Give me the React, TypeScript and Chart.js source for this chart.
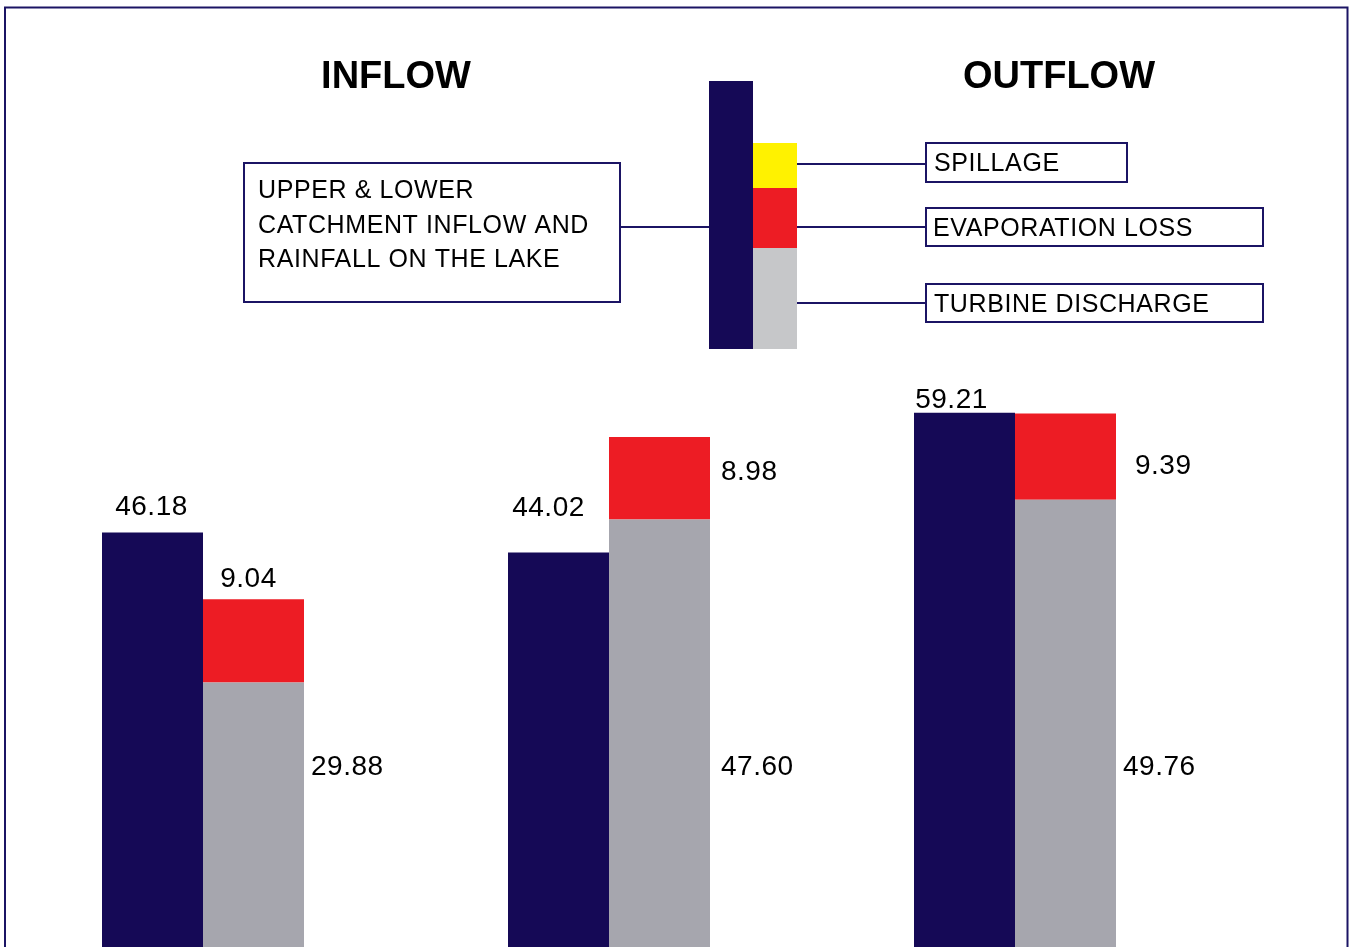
import React, { useEffect, useRef } from "react";
import { Chart, registerables } from "chart.js";

Chart.register(...registerables);

const categories = ["Case 1", "Case 2", "Case 3"];
const inflowValues = [46.18, 44.02, 59.21];
const turbineValues = [29.88, 47.6, 49.76];
const evaporationValues = [9.04, 8.98, 9.39];

const NAVY = "#150956";
const RED = "#ed1c24";
const GRAY = "#a6a6ae";
const LIGHT_GRAY = "#c6c7c9";
const YELLOW = "#fff200";
const FRAME = "#1b1464";
const FONT = "'Liberation Sans', Arial, Helvetica, sans-serif";

const decorPlugin = {
  id: "decor",
  beforeDraw(chart: any) {
    const ctx = chart.ctx;
    ctx.save();
    ctx.fillStyle = "#ffffff";
    ctx.fillRect(0, 0, chart.width, chart.height);
    ctx.restore();
  },
  afterDraw(chart: any) {
    const ctx = chart.ctx;
    ctx.save();
    // frame
    ctx.strokeStyle = FRAME;
    ctx.lineWidth = 2;
    ctx.strokeRect(5, 7.5, 1342.5, 1100);

    // titles
    ctx.fillStyle = "#000";
    ctx.font = `bold 38px ${FONT}`;
    ctx.textAlign = "center";
    ctx.textBaseline = "alphabetic";
    ctx.fillText("INFLOW", 396, 88);
    ctx.fillText("OUTFLOW", 1059, 88);

    // legend diagram bars
    ctx.fillStyle = NAVY;
    ctx.fillRect(709, 81, 44, 268);
    ctx.fillStyle = YELLOW;
    ctx.fillRect(753, 143, 44, 45);
    ctx.fillStyle = RED;
    ctx.fillRect(753, 188, 44, 60);
    ctx.fillStyle = LIGHT_GRAY;
    ctx.fillRect(753, 248, 44, 101);

    // connector lines
    ctx.strokeStyle = FRAME;
    ctx.lineWidth = 2;
    ctx.beginPath();
    ctx.moveTo(620, 227);
    ctx.lineTo(709, 227);
    ctx.moveTo(797, 164);
    ctx.lineTo(926, 164);
    ctx.moveTo(797, 227);
    ctx.lineTo(926, 227);
    ctx.moveTo(797, 303);
    ctx.lineTo(926, 303);
    ctx.stroke();

    // boxes
    ctx.strokeRect(244, 163, 376, 139);
    ctx.strokeRect(926, 143, 201, 39);
    ctx.strokeRect(926, 208, 337, 38);
    ctx.strokeRect(926, 284, 337, 38);

    ctx.fillStyle = "#000";
    ctx.font = `25px ${FONT}`;
    ctx.textAlign = "left";
    (ctx as any).letterSpacing = "0.6px";
    ctx.fillText("UPPER & LOWER", 258, 198);
    ctx.fillText("CATCHMENT INFLOW AND", 258, 233);
    ctx.fillText("RAINFALL ON THE LAKE", 258, 267);
    ctx.fillText("SPILLAGE", 934, 171);
    ctx.fillText("EVAPORATION LOSS", 933, 236);
    ctx.fillText("TURBINE DISCHARGE", 934, 312);

    // value labels
    (ctx as any).letterSpacing = "0.5px";
    ctx.font = `28px ${FONT}`;
    const y = chart.scales.y;
    const inMeta = chart.getDatasetMeta(0);
    const turbMeta = chart.getDatasetMeta(1);
    const evapMeta = chart.getDatasetMeta(2);
    const inOffsets = [
      [-1, -28],
      [-10, -46],
      [-13, -15],
    ];
    inMeta.data.forEach((bar: any, i: number) => {
      ctx.textAlign = "center";
      ctx.fillText(
        inflowValues[i].toFixed(2),
        bar.x + inOffsets[i][0],
        bar.y + inOffsets[i][1] + 10
      );
    });
    evapMeta.data.forEach((bar: any, i: number) => {
      const right = bar.x + bar.width / 2;
      const txt = evaporationValues[i].toFixed(2);
      if (i === 0) {
        ctx.textAlign = "center";
        ctx.fillText(txt, bar.x - 5, bar.y - 22 + 10);
      } else {
        ctx.textAlign = "left";
        const top = bar.y;
        const bottom = bar.base;
        const dx = i === 1 ? 11 : 19;
        const cy = i === 1 ? (top + bottom) / 2 - 8 : (top + bottom) / 2 + 7;
        ctx.fillText(txt, right + dx, cy + 10);
      }
    });
    const turbLabelY = y.getPixelForValue(20.9);
    turbMeta.data.forEach((bar: any, i: number) => {
      const right = bar.x + bar.width / 2;
      ctx.textAlign = "left";
      const dx = i === 1 ? 11 : 7;
      ctx.fillText(turbineValues[i].toFixed(2), right + dx, turbLabelY + 10);
    });
    ctx.restore();
  },
};

export default function App() {
  const canvasRef = useRef<HTMLCanvasElement | null>(null);

  useEffect(() => {
    document.body.style.margin = "0";
    const canvas = canvasRef.current;
    if (!canvas) return;
    const chart = new Chart(canvas, {
      type: "bar",
      data: {
        labels: categories,
        datasets: [
          {
            label: "UPPER & LOWER CATCHMENT INFLOW AND RAINFALL ON THE LAKE",
            data: inflowValues,
            backgroundColor: NAVY,
            stack: "in",
          },
          {
            label: "TURBINE DISCHARGE",
            data: turbineValues,
            backgroundColor: GRAY,
            stack: "out",
          },
          {
            label: "EVAPORATION LOSS",
            data: evaporationValues,
            backgroundColor: RED,
            stack: "out",
          },
        ],
      },
      options: {
        animation: false,
        responsive: false,
        maintainAspectRatio: false,
        layout: { padding: { left: 0, right: 131, top: 38, bottom: 7 } },
        datasets: {
          bar: {
            categoryPercentage: 202 / 406,
            barPercentage: 1,
            borderWidth: 0,
          },
        },
        plugins: {
          legend: { display: false },
          tooltip: { enabled: false },
          title: { display: false },
        },
        scales: {
          x: { display: false, stacked: true, offset: true },
          y: { display: false, stacked: true, min: 0, max: 100 },
        },
      },
      plugins: [decorPlugin],
    });
    return () => chart.destroy();
  }, []);

  return (
    <div
      style={{
        width: 1349,
        height: 947,
        overflow: "hidden",
        position: "relative",
        background: "#fff",
      }}
    >
      <canvas
        ref={canvasRef}
        width={1349}
        height={964}
        style={{ display: "block", width: 1349, height: 964 }}
      />
    </div>
  );
}
